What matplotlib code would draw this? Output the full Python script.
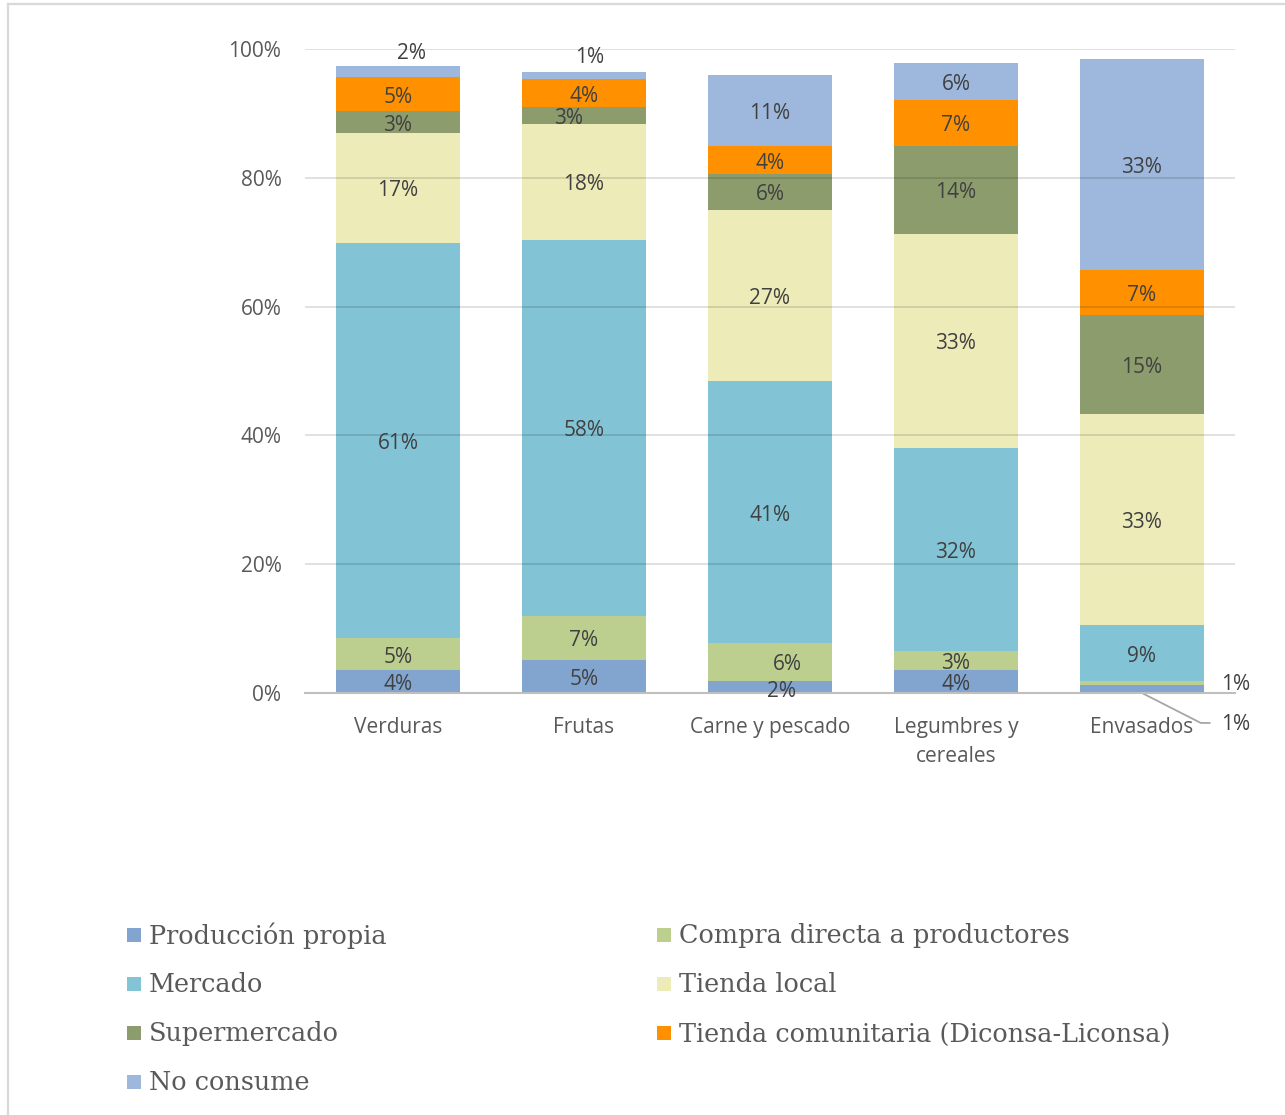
import numpy as np
import matplotlib
matplotlib.use("Agg")
import matplotlib.pyplot as plt
from matplotlib.lines import Line2D
from matplotlib.patches import Rectangle

categories = ["Verduras", "Frutas", "Carne y pescado", "Legumbres y\ncereales", "Envasados"]
series_names = ["Producción propia", "Compra directa a productores", "Mercado", "Tienda local",
                "Supermercado", "Tienda comunitaria (Diconsa-Liconsa)", "No consume"]
produccion_propia = [3.6, 5.1, 1.9, 3.6, 1.2]
compra_directa = [4.9, 6.9, 5.9, 2.9, 0.6]
mercado = [61.4, 58.3, 40.6, 31.6, 8.7]
tienda_local = [17.1, 18.1, 26.6, 33.2, 32.8]
supermercado = [3.3, 2.6, 5.6, 13.7, 15.4]
tienda_comunitaria = [5.3, 4.3, 4.3, 7.1, 7.0]
no_consume = [1.7, 1.1, 11.1, 5.7, 32.8]
y_ticks = [0, 20, 40, 60, 80, 100]
y_tick_labels = ["0%", "20%", "40%", "60%", "80%", "100%"]

series = [produccion_propia, compra_directa, mercado, tienda_local,
          supermercado, tienda_comunitaria, no_consume]
colors = ["#82A5CF", "#BCCF8F", "#82C4D6", "#EDEBB8", "#8D9C6D", "#FF9100", "#9DB8DC"]

W, H = 1285, 1115
fig = plt.figure(figsize=(W / 100, H / 100), dpi=100)
ax = fig.add_axes([305 / W, 1 - 693 / H, 930 / W, 644 / H])

sans = "Open Sans"
txt_color = "#404040"
tick_color = "#595959"
fs = 15

x = np.arange(len(categories))
bar_w = 0.67
bottom = np.zeros(len(categories))
containers = []
for vals, col, name in zip(series, colors, series_names):
    vals = np.array(vals, dtype=float)
    ax.bar(x, vals, bar_w, bottom=bottom, color=col, label=name, zorder=2, linewidth=0)
    containers.append((vals, bottom.copy()))
    bottom = bottom + vals

ax.set_xlim(-0.5, len(categories) - 0.5)
ax.set_ylim(0, 100)
ax.set_yticks(y_ticks)
ax.set_yticklabels(y_tick_labels)
ax.set_xticks(x)
ax.set_xticklabels(categories, linespacing=1.5)
ax.yaxis.grid(True, color="black", alpha=0.13, linewidth=1.3, zorder=3)
ax.set_axisbelow(False)
for s in ["top", "right", "left"]:
    ax.spines[s].set_visible(False)
ax.spines["bottom"].set_color("#bfbfbf")
ax.spines["bottom"].set_linewidth(1.5)
ax.spines["bottom"].set_zorder(4)
ax.tick_params(axis="both", length=0, labelsize=fs, labelcolor=tick_color)
ax.tick_params(axis="y", pad=17)
ax.tick_params(axis="x", pad=17)
for lbl in ax.get_xticklabels() + ax.get_yticklabels():
    lbl.set_fontfamily(sans)

# special label offsets (pixels) : (series index, category index) -> (dx, dy)
base_dy = -3
offsets = {
    (6, 0): (14, 21),
    (6, 1): (6, 21),
    (4, 1): (-15, 0),
    (0, 2): (11, -2),
    (1, 2): (17, 0),
}
for si, (vals, bot) in enumerate(containers):
    for ci in range(len(categories)):
        if ci == 4 and si in (0, 1):
            continue
        txt = f"{int(round(vals[ci]))}%"
        dx, dy = offsets.get((si, ci), (0, 0))
        ax.annotate(txt, xy=(x[ci], bot[ci] + vals[ci] / 2), xytext=(dx, dy + base_dy),
                    textcoords="offset pixels", ha="center", va="center",
                    fontsize=fs, color=txt_color, family=sans, zorder=5)

# Envasados small values with leader lines
vals0, bot0 = containers[0]
vals1, bot1 = containers[1]
ax.annotate(f"{int(round(vals1[4]))}%", xy=(x[4], bot1[4] + vals1[4] / 2), xytext=(79, -1),
            textcoords="offset pixels", ha="left", va="center", fontsize=fs,
            color=txt_color, family=sans, annotation_clip=False)
ax.annotate(f"{int(round(vals0[4]))}%", xy=(x[4], 0), xytext=(79, -31),
            textcoords="offset pixels", ha="left", va="center", fontsize=fs,
            color=txt_color, family=sans, annotation_clip=False,
            arrowprops=dict(arrowstyle="-", color="#a6a6a6", lw=1.3, shrinkA=6, shrinkB=0,
                            relpos=(0, 0.55),
                            connectionstyle="angle,angleA=0,angleB=-27,rad=0"))

# Legend (row-major, two columns)
col_x = [127, 657]
row_y = [935, 984, 1033, 1082]
for i, (name, col) in enumerate(zip(series_names, colors)):
    r, c = divmod(i, 2)
    px, py = col_x[c], row_y[r]
    fig.add_artist(Rectangle((px / W, 1 - (py + 7) / H), 14 / W, 14 / H,
                             transform=fig.transFigure, facecolor=col, edgecolor="none"))
    fig.text((px + 22) / W, 1 - (py + 1) / H, name, ha="left", va="center",
             fontsize=18.4, family="DejaVu Serif", color=tick_color)

# outer border (left and top)
fig.add_artist(Line2D([8 / W, 8 / W], [0, 1 - 4 / H], transform=fig.transFigure,
                      color="#d9d9d9", lw=1.6))
fig.add_artist(Line2D([8 / W, 1], [1 - 4 / H, 1 - 4 / H], transform=fig.transFigure,
                      color="#d9d9d9", lw=1.6))

fig.savefig("out.png", dpi=100)
